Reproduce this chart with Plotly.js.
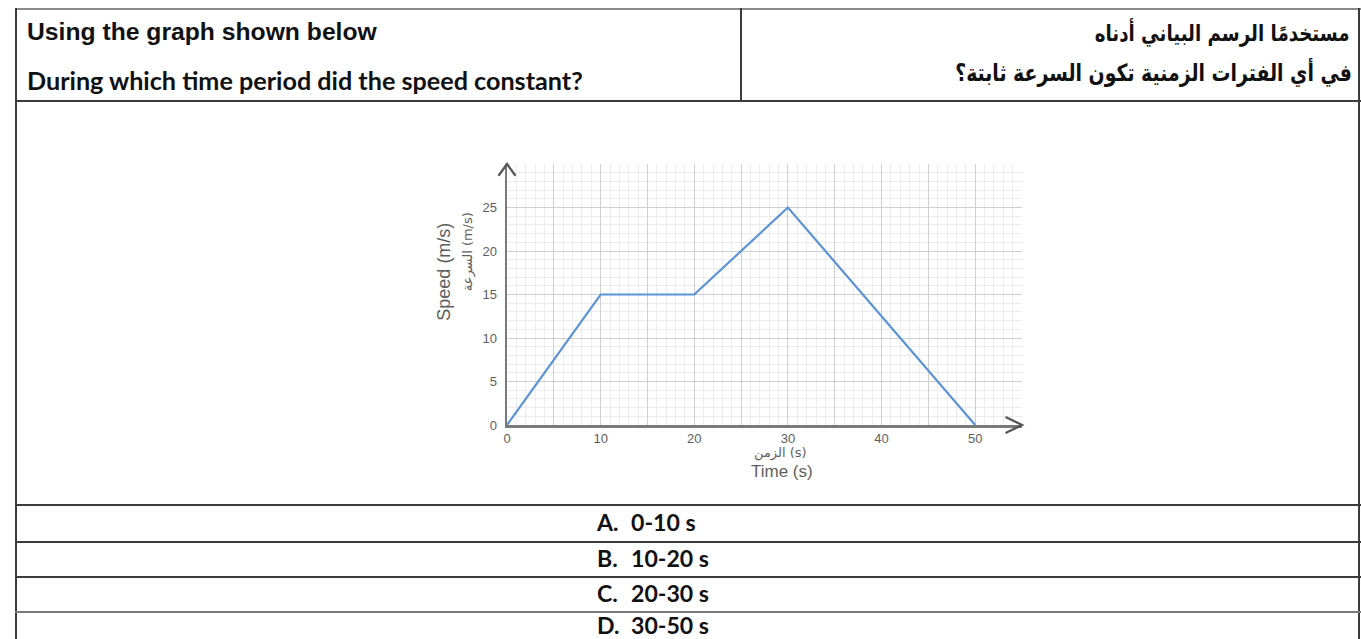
<!DOCTYPE html>
<html>
<head>
<meta charset="utf-8">
<script src="https://cdn.plot.ly/plotly-3.0.1.min.js"></script>
<style>
  html, body { margin:0; padding:0; background:#fff; }
  body { width:1361px; height:639px; overflow:hidden; position:relative; }
  .ln { position:absolute; background:#3c3c3c; }
  .t { position:absolute; white-space:nowrap; color:#111; line-height:1; }
  .en1 { font-family:"Liberation Sans", Arial, sans-serif; font-weight:bold; }
  .cal { font-family:Lato, "Open Sans", sans-serif; font-weight:bold; }
  .ar { font-family:"DejaVu Sans", sans-serif; font-weight:bold; direction:rtl; }
  #chart { position:absolute; left:380px; top:130px; width:680px; height:370px; }
</style>
</head>
<body>
<!-- table rules -->
<div class="ln" style="left:15px; top:8px; width:1346px; height:2px; background:#8a8a8a;"></div>
<div class="ln" style="left:15px; top:8px; width:2px; height:631px;"></div>
<div class="ln" style="left:1358px; top:8px; width:2px; height:631px;"></div>
<div class="ln" style="left:740px; top:8px; width:2px; height:93px;"></div>
<div class="ln" style="left:15px; top:100px; width:1346px; height:2px;"></div>
<div class="ln" style="left:15px; top:504px; width:1346px; height:2px;"></div>
<div class="ln" style="left:15px; top:541px; width:1346px; height:2px;"></div>
<div class="ln" style="left:15px; top:576px; width:1346px; height:2px;"></div>
<div class="ln" style="left:15px; top:611px; width:1346px; height:2px; background:#7a7a7a;"></div>

<div id="chart"></div>

<script>
// ---- text content ----
const questionEn = ["Using the graph shown below", "During which time period did the speed constant?"];
const questionAr = ["مستخدمًا الرسم البياني أدناه", "في أي الفترات الزمنية تكون السرعة ثابتة؟"];
const optionLabels = ["A.", "B.", "C.", "D."];
const optionValues = ["0-10 s", "10-20 s", "20-30 s", "30-50 s"];

// ---- chart data ----
const timeS = [0, 10, 20, 30, 50];
const speedMS = [0, 15, 15, 25, 0];
const xTickVals = [0, 5, 10, 15, 20, 25, 30, 35, 40, 45, 50, 55];
const xTickText = ["0", "", "10", "", "20", "", "30", "", "40", "", "50", ""];
const yTickVals = [0, 5, 10, 15, 20, 25, 30];
const yTickText = ["0", "5", "10", "15", "20", "25", ""];
const yTitleEn = "Speed (m/s)";
const yTitleAr = "السرعة (m/s)";
const xTitleAr = "الزمن (s)";
const xTitleEn = "Time (s)";

// ---- build texts, fitting widths ----
function place(cls, txt, opts) {
  const d = document.createElement('div');
  d.className = 't ' + cls;
  d.textContent = txt;
  d.style.fontSize = '20px';
  document.body.appendChild(d);
  const w = d.getBoundingClientRect().width;
  const k = opts.k || 1;
  const fs = 20 * opts.w / w * k;
  d.style.fontSize = fs + 'px';
  const r = d.getBoundingClientRect();
  d.style.top = (opts.cy - r.height / 2) + 'px';
  if (k !== 1) {
    d.style.transform = 'scaleX(' + (1 / k) + ')';
    d.style.transformOrigin = opts.right !== undefined ? 'right center' : 'left center';
  }
  if (opts.right !== undefined) d.style.left = (opts.right - r.width) + 'px';
  else d.style.left = opts.left + 'px';
}
place('en1', questionEn[0], {left:27, w:350, cy:32});
place('cal', questionEn[1], {left:27, w:556, cy:81});
place('ar', questionAr[0], {right:1350, w:255, cy:33, k:1.25});
place('ar', questionAr[1], {right:1352, w:397, cy:74, k:1.25});

// options: fit font size on B value, apply to all
const probe = document.createElement('div');
probe.className = 't cal'; probe.style.fontSize = '20px';
probe.textContent = optionValues[1];
document.body.appendChild(probe);
const optFs = 20 * 78 / probe.getBoundingClientRect().width;
probe.remove();
const optCy = [523, 559, 594, 626];
optionLabels.forEach((lab, i) => {
  [[lab, 597], [optionValues[i], 631]].forEach(([txt, x]) => {
    const d = document.createElement('div');
    d.className = 't cal';
    d.style.fontSize = optFs + 'px';
    d.textContent = txt;
    document.body.appendChild(d);
    const r = d.getBoundingClientRect();
    d.style.left = x + 'px';
    d.style.top = (optCy[i] - r.height / 2) + 'px';
  });
});

// ---- chart ----
const axisCol = '#7a7a7a';
const txtCol = '#5e5e5e';
const trace = {
  x: timeS, y: speedMS, type: 'scatter', mode: 'lines',
  line: {color: '#5b93d6', width: 2.2}, hoverinfo: 'skip', cliponaxis: false
};
const layout = {
  width: 680, height: 370,
  margin: {l: 127, r: 38, t: 34, b: 75, pad: 0},
  paper_bgcolor: 'rgba(0,0,0,0)', plot_bgcolor: '#fff',
  showlegend: false,
  font: {family: '"Liberation Sans", Arial, sans-serif', color: txtCol, size: 13},
  xaxis: {
    range: [0, 55], tickmode: 'array', tickvals: xTickVals, ticktext: xTickText,
    showgrid: true, gridcolor: '#cfcfcf', gridwidth: 1,
    minor: {dtick: 1, tick0: 0, showgrid: true, gridcolor: '#ececec', gridwidth: 1, ticks: ''},
    showline: true, linecolor: axisCol, linewidth: 2.5, zeroline: false,
    ticks: '', ticklabelstandoff: 0, fixedrange: true
  },
  yaxis: {
    range: [0, 30], tickmode: 'array', tickvals: yTickVals, ticktext: yTickText,
    showgrid: true, gridcolor: '#cfcfcf', gridwidth: 1,
    minor: {dtick: 1, tick0: 0, showgrid: true, gridcolor: '#ececec', gridwidth: 1, ticks: ''},
    showline: true, linecolor: axisCol, linewidth: 2.5, zeroline: false,
    ticks: '', ticklabelstandoff: 5, fixedrange: true
  },
  shapes: [
    {type: 'path', xref: 'paper', yref: 'paper', path: 'M -0.0165,0.955 L 0,1.0 L 0.0165,0.955',
     line: {color: '#555', width: 2.2}},
    {type: 'path', xref: 'paper', yref: 'paper', path: 'M 0.968,0.031 L 1.0,0 L 0.968,-0.031',
     line: {color: '#555', width: 2.2}}
  ],
  annotations: [
    {text: yTitleEn, xref: 'paper', yref: 'paper', x: -0.124, y: 0.588, textangle: -90,
     showarrow: false, xanchor: 'center', yanchor: 'middle', font: {size: 18, color: txtCol}},
    {text: yTitleAr, xref: 'paper', yref: 'paper', x: -0.074, y: 0.665, textangle: -90,
     showarrow: false, xanchor: 'center', yanchor: 'middle', font: {size: 13, color: txtCol, family: '"DejaVu Sans", sans-serif'}},
    {text: xTitleAr, xref: 'paper', yref: 'paper', x: 0.531, y: -0.106,
     showarrow: false, xanchor: 'center', yanchor: 'middle', font: {size: 13, color: txtCol, family: '"DejaVu Sans", sans-serif'}},
    {text: xTitleEn, xref: 'paper', yref: 'paper', x: 0.534, y: -0.18,
     showarrow: false, xanchor: 'center', yanchor: 'middle', font: {size: 17, color: txtCol}}
  ]
};
Plotly.newPlot('chart', [trace], layout, {staticPlot: true, displayModeBar: false});
</script>
</body>
</html>
